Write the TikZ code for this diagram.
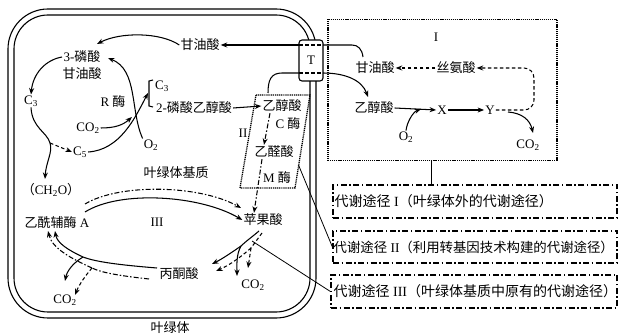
\documentclass[tikz,border=0pt]{standalone}
\usepackage{fontspec}
\setmainfont{Liberation Serif}
\newfontfamily\cjk{Noto Sans CJK SC}
\usetikzlibrary{arrows.meta}
\newcommand{\zh}[1]{{\cjk #1}}
\begin{document}
\begin{tikzpicture}[x=1pt,y=-1pt,
  lbl/.style={font=\fontsize{13}{17}\selectfont, inner sep=1pt},
  leg/.style={font=\fontsize{14}{16}\selectfont, inner sep=0pt, anchor=west},
  arr/.style={-{Stealth[length=6.5pt,width=5pt]}},
  ln/.style={line width=1.05pt},
  dd/.style={dash pattern=on 5pt off 2pt on 1.5pt off 2pt},
  dsh/.style={dash pattern=on 3.5pt off 2.5pt},
  dotbox/.style={line width=1.3pt, dash pattern=on 1.1pt off 0.8pt},
  legbox/.style={draw, line width=1.2pt, dash pattern=on 6pt off 2.5pt on 1.5pt off 2.5pt, inner sep=0pt},
  mem/.style={line width=1.1pt}]
\useasboundingbox (0,0) rectangle (618,336);

% chloroplast membranes
\draw[mem, rounded corners=40pt] (8,9) rectangle (316,318);
\draw[mem, rounded corners=34pt] (14,15) rectangle (310,312);

% transporter T
\node[draw, mem, fill=white, rounded corners=3pt, minimum width=24pt, minimum height=41pt, inner sep=0pt, font=\fontsize{13}{15}\selectfont] (T) at (311,60.5) {T};
\coordinate (tl1) at (299,45);
\coordinate (tr1) at (323,45);
\coordinate (tl2) at (299,73);
\coordinate (tr2) at (323,73);
\draw[dsh, ln] (tl1) -- (tr1);
\draw[dsh, ln] (tl2) -- (tr2);

% box I
\node[draw, dotbox, minimum width=229pt, minimum height=141pt, inner sep=0pt] (boxI) at (442.5,90) {};
\coordinate (bI) at (431,161);

% box II parallelogram
\coordinate (p1) at (256,95);
\coordinate (p2) at (310,95);
\coordinate (p3) at (295,188);
\coordinate (p4) at (240,188);
\draw[dotbox] (p1) -- (p2) -- (p3) -- (p4) -- cycle;

% labels inside chloroplast
\node[lbl] (pg1) at (200,45) {\zh{甘油酸}};
\node[lbl, align=center] (pga) at (82,65) {3-\zh{磷酸}\\\zh{甘油酸}};
\node[lbl] (c3a) at (31,101) {C\textsubscript{3}};
\node[lbl] (c5) at (80,152) {C\textsubscript{5}};
\node[lbl] (co2a) at (88,128) {CO\textsubscript{2}};
\node[lbl] (o2a) at (151,145) {O\textsubscript{2}};
\node[lbl] (renz) at (113,102) {R \zh{酶}};
\node[lbl] (c3b) at (162,86) {C\textsubscript{3}};
\node[lbl] (pgly) at (194,108) {2-\zh{磷酸乙醇酸}};
\node[lbl] (gly2) at (282,106) {\zh{乙醇酸}};
\node[lbl] (cenz) at (288,124) {C \zh{酶}};
\node[lbl] (ii) at (243,133) {II};
\node[lbl] (glx) at (274,152) {\zh{乙醛酸}};
\node[lbl] (menz) at (277,178) {M \zh{酶}};
\node[lbl] (mal) at (263,220) {\zh{苹果酸}};
\node[lbl] (stroma) at (176,173) {\zh{叶绿体基质}};
\node[lbl] (ch2o) at (51,190) {\zh{（}CH\textsubscript{2}O\zh{）}};
\node[lbl] (acoa) at (57,223) {\zh{乙酰辅酶} A};
\node[lbl] (iii) at (157,222) {III};
\node[lbl] (pyr) at (179,274) {\zh{丙酮酸}};
\node[lbl] (co2b) at (253,285) {CO\textsubscript{2}};
\node[lbl] (co2c) at (65,300) {CO\textsubscript{2}};
\node[lbl] (chl) at (170,328) {\zh{叶绿体}};

% labels in box I
\node[lbl] (iI) at (436,37) {I};
\node[lbl] (gly3) at (375,68) {\zh{甘油酸}};
\node[lbl] (ser) at (456,68) {\zh{丝氨酸}};
\node[lbl] (gly4) at (374,108) {\zh{乙醇酸}};
\node[lbl] (xx) at (442,110) {X};
\node[lbl] (yy) at (490,110) {Y};
\node[lbl] (o2b) at (406,137) {O\textsubscript{2}};
\node[lbl] (co2d) at (528,145) {CO\textsubscript{2}};

% legend boxes
\node[legbox, minimum width=284pt, minimum height=33pt] (b1) at (475,201.5) {};
\node[legbox, minimum width=284pt, minimum height=32pt] (b2) at (475,247) {};
\node[legbox, minimum width=286pt, minimum height=33pt] (b3) at (474,291.5) {};
\node[leg] (t1) at ([xshift=2pt]b1.west) {\zh{代谢途径} I\zh{（叶绿体外的代谢途径）}};
\node[leg, font=\fontsize{13.4}{16}\selectfont] (t2) at ([xshift=1pt]b2.west) {\zh{代谢途径} II\zh{（利用转基因技术构建的代谢途径）}};
\node[leg] (t3) at ([xshift=3pt]b3.west) {\zh{代谢途径} III\zh{（叶绿体基质中原有的代谢途径）}};

% ---------- connectors inside chloroplast ----------
\coordinate (pga1) at (62,57);
\coordinate (pga2) at (97,44);
\coordinate (pga3) at (108,58);
\draw[ln, arr] (tl1) -- (pg1.east);
\draw[ln, arr] (pg1.west) .. controls (160,32) and (120,32) .. (pga2);
\draw[ln, arr] (pga1) .. controls (45,60) and (33,74) .. (c3a.north);
% C3 -> split
\coordinate (c3s) at (50,143);
\coordinate (ch2oin) at (45,179);
\draw[ln] (c3a.south) .. controls (32,128) and (47,132) .. (c3s);
\draw[ln, arr] (c3s) .. controls (53,152) and (46,162) .. (ch2oin);
\draw[ln, dsh, arr] (c3s) -- (c5.west);
% Calvin / photorespiration
\coordinate (jn) at (148,93);
\coordinate (jc) at (132,117);
\draw[ln, arr] (c5.east) .. controls (120,150) and (135,118) .. (jn);
\draw[ln, arr] (co2a.east) .. controls (115,128) and (123,125) .. (jc);
\draw[ln, arr] (o2a.north west) .. controls (130,110) and (138,70) .. (pga3);
\draw[ln] (153,80) -- (149,81) -- (149,106) -- (153,107);
\draw[ln, arr] (pgly.east) -- (gly2.west);
% path II
\coordinate (tbend) at (268,93);
\draw[ln] (tl2) -- (282,73) .. controls (271,73) and (268,80) .. (tbend);
\draw[ln, dd, arr] ([xshift=-12pt]gly2.south) -- ([xshift=-10pt]glx.north);
\draw[ln, dd, arr] ([xshift=-12pt]glx.south) -- ([xshift=-9pt]mal.north);
% path III
\coordinate (ac1) at (85,212);
\coordinate (ac2) at (85,204);
\coordinate (ml2) at (241,208);
\draw[ln, arr] (ac1) .. controls (120,190) and (200,195) .. (mal.west);
\draw[ln, dd, arr] (ac2) .. controls (120,183) and (200,185) .. (ml2);
\coordinate (ms1) at (259,231);
\coordinate (ms2) at (262,233);
\coordinate (s1) at (241,246);
\draw[ln] (ms1) .. controls (252,237) and (245,242) .. (s1);
\draw[ln, arr] (s1) .. controls (231,253) and (222,259) .. (212,264);
\draw[ln, arr] (s1) .. controls (236,255) and (237,265) .. (237,276);
\coordinate (s2) at (251,248);
\draw[ln, dsh] (ms2) -- (s2);
\draw[ln, dsh, arr] (s2) .. controls (242,256) and (230,265) .. (216,271);
\draw[ln, dsh, arr] (s2) -- (248,268);
\coordinate (py1) at (157,268);
\coordinate (py2) at (149,279);
\coordinate (s3) at (83,257);
\draw[ln] (py1) .. controls (120,265) and (96,262) .. (s3);
\draw[ln, arr] (s3) .. controls (68,250) and (57,243) .. (55,231);
\draw[ln, arr] (s3) .. controls (73,263) and (67,271) .. (65,281);
\coordinate (s4) at (92,268);
\draw[ln, dd] (py2) .. controls (122,276) and (102,273) .. (s4);
\draw[ln, dd, arr] (s4) .. controls (70,258) and (52,248) .. (48,231);
\draw[ln, dsh, arr] (s4) .. controls (85,276) and (79,285) .. (75,295);

% ---------- connectors around T and box I ----------
\coordinate (g3top) at (363,57);
\coordinate (g4top) at (368,97);
\coordinate (o2tip) at (421,109);
\coordinate (yy2) at (508,112);
\coordinate (co2tip) at (533,133);
\draw[ln] (tr1) -- (352,45) .. controls (358,45) and (362,49) .. (g3top);
\draw[ln, arr] (tr2) .. controls (345,73) and (362,80) .. (g4top);
\draw[ln, dsh, arr] (ser.west) -- (gly3.east);
\draw[ln, arr] (gly4.east) -- (xx.west);
\draw[ln, arr] (o2b.north) .. controls (407,122) and (413,112) .. (o2tip);
\draw[ln, arr] (xx.east) -- (yy.west);
\draw[ln, arr] (yy2) .. controls (522,113) and (530,120) .. (co2tip);
\draw[ln, dsh, arr, rounded corners=10pt] (yy.east) -- (534,110) -- (534,68) -- (ser.east);

% ---------- leader lines ----------
\coordinate (pII) at (298.5,165);
\coordinate (pM) at (252,241);
\draw[line width=0.8pt] (pII) -- (b2.west);
\draw[line width=0.8pt] (pM) -- (b3.west);
\draw[line width=0.9pt] (bI) -- (bI |- b1.north);
\end{tikzpicture}
\end{document}
